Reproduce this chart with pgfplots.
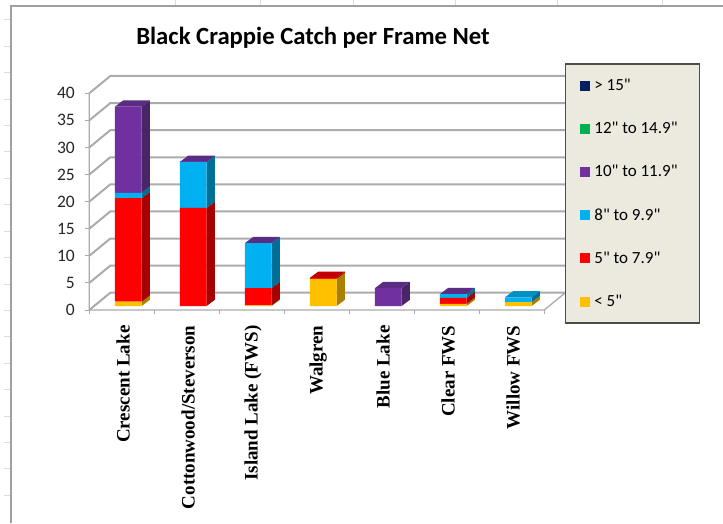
\documentclass[border=0pt]{standalone}
\usepackage{pgfplots}
\usepackage{pgfplotstable}
\usepackage{fontspec}
\pgfplotsset{compat=1.18}
\setmainfont{Carlito}[Ligatures=TeXOff]
\newfontfamily\catfont{Liberation Serif}

\definecolor{gridgray}{HTML}{ABABAB}
\definecolor{cellgray}{HTML}{DCDCDC}
\definecolor{framegray}{HTML}{A0A0A0}
\definecolor{legendbg}{HTML}{ECE9DF}
\definecolor{c5}{HTML}{FFC000}
\definecolor{c8}{HTML}{FF0000}
\definecolor{c10}{HTML}{00B0F0}
\definecolor{c12}{HTML}{7030A0}
\definecolor{c15}{HTML}{00B050}
\definecolor{cbig}{HTML}{002060}
\definecolor{s5}{HTML}{A98000}
\definecolor{s8}{HTML}{A60000}
\definecolor{s10}{HTML}{006F98}
\definecolor{s12}{HTML}{4A2468}
\definecolor{t8}{HTML}{C00000}
\definecolor{t10}{HTML}{0090C4}
\definecolor{t12}{HTML}{5A2D82}

% catch per net, one column per length group
\pgfplotstableread{
lake under5 a5to8 a8to10 a10to12 a12to15 over15
0    0.8    19.1  1.0    15.9    0       0
1    0.0    18.1  8.5    0.1     0       0
2    0.1    3.2   8.3    0.0     0       0
3    5.0    0.2   0.0    0.0     0       0
4    0.0    0.0   0.0    3.3     0       0
5    0.4    1.1   0.7    0.0     0       0
6    0.7    0.0   0.9    0.0     0       0
}\catch

% side of one stack segment: bar, from, to, colour
\newcommand{\sideface}[4]{%
  \pgfmathsetmacro\xa{#1+0.2054}%
  \pgfmathsetmacro\xb{#1+0.3334}%
  \pgfmathsetmacro\ya{#2+1.16}%
  \pgfmathsetmacro\yb{#3+1.16}%
  \addplot[fill=#4,draw=none,forget plot] coordinates {(\xa,#2) (\xb,\ya) (\xb,\yb) (\xa,#3)} --cycle;
}
% top of a stack: bar, height, colour
\newcommand{\topface}[3]{%
  \pgfmathsetmacro\xa{#1-0.2054}%
  \pgfmathsetmacro\xb{#1+0.2054}%
  \pgfmathsetmacro\xc{#1+0.3334}%
  \pgfmathsetmacro\xd{#1-0.0774}%
  \pgfmathsetmacro\ya{#2+1.16}%
  \addplot[fill=#3,draw=none,forget plot] coordinates {(\xa,#2) (\xb,#2) (\xc,\ya) (\xd,\ya)} --cycle;
}

\pgfplotsset{
  chartbox/.style={
    at={(89.3pt,213pt)}, anchor=south west,
    scale only axis, width=476pt, height=234pt,
    xmin=-0.6, xmax=6.723, ymin=-0.738, ymax=42.452,
    clip=false,
    axis x line=bottom, axis y line=left,
    axis line style={draw=none},
  },
}

\begin{document}
\begin{tikzpicture}[x=1pt,y=1pt]
\path[use as bounding box] (0,0) rectangle (723,523);
\fill[white] (0,0) rectangle (723,523);

% worksheet cells showing round the chart
\foreach \yy in {20,46.4,...,515} \draw[cellgray,line width=1pt] (4,523-\yy) -- (11,523-\yy);
\foreach \xx in {175,260,353,455,557,662} \draw[cellgray,line width=1pt] (\xx,523) -- (\xx,517);
\draw[framegray,line width=1.5pt] (11,0) -- (11,517) -- (723,517);

% walls, floor and the depth of the bars
\begin{axis}[
  chartbox,
  xtick={-0.6,0.4,1.4,2.4,3.4,4.4,5.4,6.4},
  xticklabels={},
  ytick={-0.738,4.262,9.262,14.262,19.262,24.262,29.262,34.262,39.262},
  yticklabels={0,5,10,15,20,25,30,35,40},
  tick style={draw=gridgray,line width=1pt},
  major tick length=4pt,
  tick align=outside,
  yticklabel style={font=\fontsize{17.5}{19}\selectfont,text=black!85,xshift=-7pt},
]
\pgfplotsinvokeforeach{0,5,10,15,20,25,30,35,40}{
  \addplot[gridgray,line width=2pt,forget plot] coordinates {(-0.6,#1-0.738) (-0.277,#1+2.452) (6.723,#1+2.452)};
}
\addplot[gridgray,line width=1.3pt,forget plot] coordinates {(-0.6,39.262) (-0.6,-0.738) (6.4,-0.738) (6.723,2.452)};

\sideface{0}{0}{0.8}{s5}
\sideface{0}{0.8}{19.9}{s8}
\sideface{0}{19.9}{20.9}{s10}
\sideface{0}{20.9}{36.8}{s12}
\topface{0}{36.8}{t12}
\sideface{1}{0}{18.1}{s8}
\sideface{1}{18.1}{26.6}{s10}
\topface{1}{26.6}{t12}
\sideface{2}{0}{0.1}{s5}
\sideface{2}{0.1}{3.3}{s8}
\sideface{2}{3.3}{11.6}{s10}
\topface{2}{11.6}{t12}
\sideface{3}{0}{5.0}{s5}
\sideface{3}{5.0}{5.2}{s8}
\topface{3}{5.2}{t8}
\sideface{4}{0}{3.3}{s12}
\topface{4}{3.3}{t12}
\sideface{5}{0}{0.4}{s5}
\sideface{5}{0.4}{1.5}{s8}
\sideface{5}{1.5}{2.2}{s10}
\topface{5}{2.2}{t12}
\sideface{6}{0}{0.7}{s5}
\sideface{6}{0.7}{1.6}{s10}
\topface{6}{1.6}{t10}
\end{axis}

% front of the bars, lake names, title, legend
\begin{axis}[
  chartbox,
  ybar stacked,
  bar width=26.7pt,
  ytick=\empty,
  xtick={-0.08,0.92,1.92,2.92,3.92,4.92,5.92},
  xticklabels={Crescent Lake,Cottonwood/Steverson,Island Lake (FWS),Walgren,Blue Lake,Clear FWS,Willow FWS},
  major tick length=0pt,
  xticklabel style={rotate=90,anchor=east,xshift=-12pt,font=\catfont\bfseries\fontsize{19}{21}\selectfont},
  title={Black Crappie Catch per Frame Net},
  title style={at={(0.47,1.137)},anchor=center,font=\bfseries\fontsize{24.7}{26}\selectfont},
  legend image code/.code={\fill[#1,draw=none] (0pt,-5pt) rectangle (10pt,5pt);\path (12pt,0pt);},
  reverse legend,
  legend cell align=left,
  legend style={
    at={(0.9987,1.054)},anchor=north west,
    fill=legendbg,
    draw=black!70,line width=1.4pt,
    font=\fontsize{17}{19}\selectfont,
    row sep=26.2pt,
    inner xsep=15pt,inner ysep=13pt,
    cells={anchor=west},
  },
]
\addplot[fill=c5,draw=none] table[x=lake,y=under5] {\catch};
\addlegendentry{< 5"}
\addplot[fill=c8,draw=none] table[x=lake,y=a5to8] {\catch};
\addlegendentry{5" to 7.9"}
\addplot[fill=c10,draw=none] table[x=lake,y=a8to10] {\catch};
\addlegendentry{8" to 9.9"}
\addplot[fill=c12,draw=none] table[x=lake,y=a10to12] {\catch};
\addlegendentry{10" to 11.9"}
\addplot[fill=c15,draw=none] table[x=lake,y=a12to15] {\catch};
\addlegendentry{12" to 14.9"\hspace*{5pt}}
\addplot[fill=cbig,draw=none] table[x=lake,y=over15] {\catch};
\addlegendentry{> 15"}
\end{axis}
\end{tikzpicture}
\end{document}
